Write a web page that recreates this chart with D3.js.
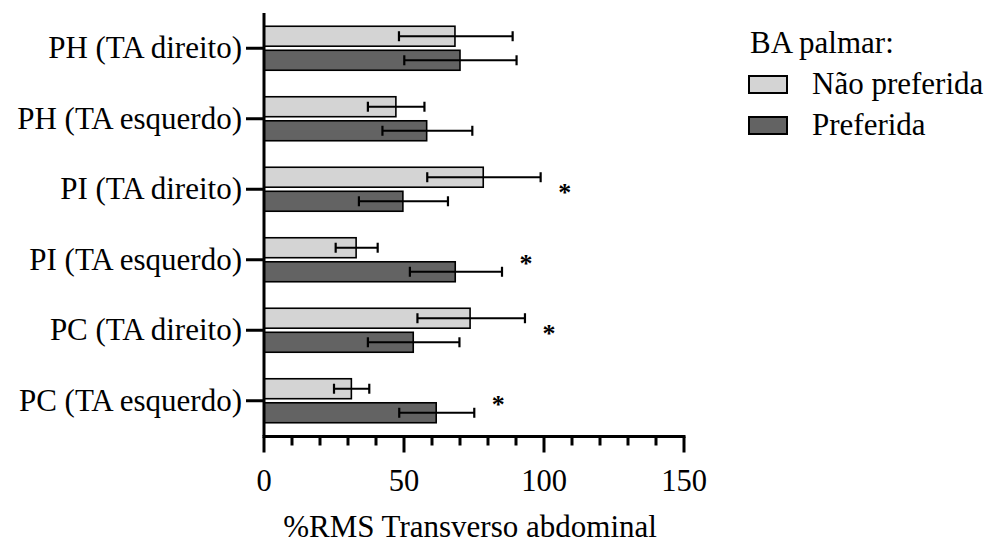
<!DOCTYPE html>
<html>
<head>
<meta charset="utf-8">
<script src="https://cdn.jsdelivr.net/npm/d3@7"></script>
<style>
  html, body { margin: 0; padding: 0; background: #fff; }
  svg { display: block; }
  text { font-family: "Liberation Serif", "Times New Roman", serif; fill: #000; }
</style>
</head>
<body>
<svg id="chart" width="991" height="543"></svg>
<script>
// ---- data ----
const categories = ["PH (TA direito)", "PH (TA esquerdo)", "PI (TA direito)", "PI (TA esquerdo)", "PC (TA direito)", "PC (TA esquerdo)"];
const seriesNames = ["Não preferida", "Preferida"];
const naoPreferida = [68.2, 47.1, 78.3, 32.9, 73.6, 31.2];
const naoPreferidaLow = [48.2, 37.1, 58.3, 25.6, 54.8, 25.0];
const naoPreferidaHigh = [88.8, 57.3, 98.8, 40.6, 93.2, 37.6];
const preferida = [70.0, 58.1, 49.6, 68.3, 53.3, 61.5];
const preferidaLow = [50.1, 42.3, 33.9, 52.1, 37.1, 48.3];
const preferidaHigh = [90.2, 74.4, 65.7, 85.0, 69.8, 75.1];
const significance = ["", "", "*", "*", "*", "*"];
const xTicks = [0, 50, 100, 150];
const xMinorTicks = [10, 20, 30, 40, 60, 70, 80, 90, 110, 120, 130, 140];
const legendTitle = "BA palmar:";
const xTitle = "%RMS Transverso abdominal";
const colors = ["#d4d4d4", "#636363"];

// ---- layout ----
const svg = d3.select("#chart");
const x = d3.scaleLinear().domain([0, 150]).range([264, 684]);
const y = d3.scaleBand().domain(categories).range([13, 436]).paddingInner(0.376).paddingOuter(0.188);
const ySub = d3.scaleBand().domain(seriesNames).range([0, y.bandwidth()]).paddingInner(0.17);
const fs = "31px";

const series = [
  { name: seriesNames[0], values: naoPreferida, lo: naoPreferidaLow, hi: naoPreferidaHigh, color: colors[0] },
  { name: seriesNames[1], values: preferida, lo: preferidaLow, hi: preferidaHigh, color: colors[1] }
];

const rows = [];
categories.forEach((c, i) => {
  series.forEach(s => {
    rows.push({ cat: c, series: s.name, v: s.values[i], lo: s.lo[i], hi: s.hi[i], color: s.color });
  });
});

// bars
const g = svg.append("g");
g.selectAll("rect.bar").data(rows).join("rect")
  .attr("class", "bar")
  .attr("x", x(0))
  .attr("y", d => y(d.cat) + ySub(d.series))
  .attr("width", d => x(d.v) - x(0))
  .attr("height", ySub.bandwidth())
  .attr("fill", d => d.color)
  .attr("stroke", "#000")
  .attr("stroke-width", 1.6);

// error bars
const eb = g.selectAll("g.err").data(rows).join("g").attr("class", "err");
const cy = d => y(d.cat) + ySub(d.series) + ySub.bandwidth() / 2;
eb.append("line")
  .attr("x1", d => x(d.lo)).attr("x2", d => x(d.hi))
  .attr("y1", cy).attr("y2", cy)
  .attr("stroke", "#000").attr("stroke-width", 1.8);
["lo", "hi"].forEach(k => {
  eb.append("line")
    .attr("x1", d => x(d[k])).attr("x2", d => x(d[k]))
    .attr("y1", d => cy(d) - 5)
    .attr("y2", d => cy(d) + 5)
    .attr("stroke", "#000").attr("stroke-width", 2.2);
});

// significance stars
svg.selectAll("text.star").data(categories.map((c, i) => ({ c, s: significance[i], hi: Math.max(naoPreferidaHigh[i], preferidaHigh[i]) })).filter(d => d.s))
  .join("text")
  .attr("class", "star")
  .attr("x", d => x(d.hi + 8.6))
  .attr("y", d => y(d.c) + y.bandwidth() / 2 + 12)
  .attr("text-anchor", "middle")
  .style("font-size", "26px")
  .style("font-weight", "bold")
  .text(d => d.s);

// y axis
const yAxis = d3.axisLeft(y).tickSize(18).tickPadding(4);
const yg = svg.append("g").attr("transform", `translate(${x(0)},0)`).call(yAxis);
yg.select(".domain").attr("d", `M0,13V436`).attr("stroke-width", 3).attr("stroke", "#000");
yg.selectAll(".tick line").attr("stroke-width", 3).attr("stroke", "#000");
yg.selectAll(".tick text").style("font-size", fs).style("font-family", '"Liberation Serif", serif').attr("fill", "#000");

// x axis
const xBase = 436.5;
const xg = svg.append("g").attr("transform", `translate(0,${xBase})`);
xg.append("line").attr("x1", x(0) - 1.5).attr("x2", x(150) + 1.5).attr("stroke", "#000").attr("stroke-width", 3);
xg.selectAll("line.minor").data(xMinorTicks).join("line").attr("class", "minor")
  .attr("x1", d => x(d)).attr("x2", d => x(d)).attr("y1", 0).attr("y2", 9)
  .attr("stroke", "#000").attr("stroke-width", 3);
xg.selectAll("line.major").data(xTicks).join("line").attr("class", "major")
  .attr("x1", d => x(d)).attr("x2", d => x(d)).attr("y1", 0).attr("y2", 16)
  .attr("stroke", "#000").attr("stroke-width", 3);
xg.selectAll("text.tl").data(xTicks).join("text").attr("class", "tl")
  .attr("x", d => x(d)).attr("y", 54.5)
  .attr("text-anchor", "middle")
  .style("font-size", "30.5px")
  .text(d => d3.format("d")(d));

// x title
svg.append("text")
  .attr("x", 470).attr("y", 537)
  .attr("text-anchor", "middle")
  .style("font-size", fs)
  .text(xTitle);

// legend
const lg = svg.append("g");
lg.append("text").attr("x", 750).attr("y", 53).style("font-size", fs).text(legendTitle);
const li = lg.selectAll("g.li").data(series).join("g").attr("class", "li")
  .attr("transform", (d, i) => `translate(0,${76 + i * 41})`);
li.append("rect").attr("x", 749).attr("y", 0).attr("width", 38).attr("height", 17)
  .attr("fill", d => d.color).attr("stroke", "#000").attr("stroke-width", 2);
li.append("text").attr("x", 812).attr("y", 18).style("font-size", fs).text(d => d.name);
</script>
</body>
</html>
